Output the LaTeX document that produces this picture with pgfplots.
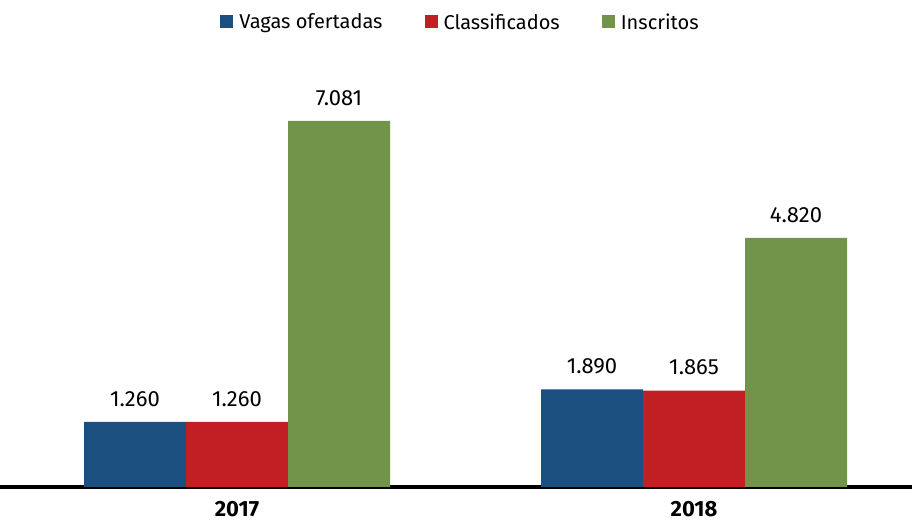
\documentclass[border=0pt]{standalone}
\usepackage{pgfplots}
\pgfplotsset{compat=1.18}
\usepackage{fontspec}
\setmainfont{Fira Sans}
\definecolor{cblue}{HTML}{1A4F80}
\definecolor{cred}{HTML}{C21F25}
\definecolor{cgreen}{HTML}{71944A}
\begin{document}
\begin{tikzpicture}
\useasboundingbox (0pt,-39pt) rectangle (912pt,487pt);
\begin{axis}[
  at={(0pt,0pt)}, anchor=south west,
  scale only axis,
  width=912pt, height=366pt,
  xmin=-0.5186, xmax=1.4770,
  ymin=0, ymax=7081,
  axis x line*=bottom,
  axis y line=none,
  x axis line style={line width=4pt, -},
  xtick={0,1}, xticklabels={2017,2018},
  major tick length=0pt,
  xticklabel style={font=\fontsize{22}{24}\selectfont\bfseries, inner sep=1pt, yshift=-13pt},
  ybar, bar width=102pt,
  /pgf/number format/.cd, 1000 sep={.}, assume math mode=true,
  /pgfplots/.cd,
  nodes near coords,
  nodes near coords style={font=\fontsize{22}{24}\selectfont, text=black, yshift=12pt},
  legend style={at={(0.505,1.27)}, anchor=center, draw=none, fill=none,
    legend columns=-1, font=\fontsize{20}{22}\selectfont,
    /tikz/every even column/.append style={column sep=40pt},
    /tikz/every odd column/.append style={column sep=4pt}},
  legend image code/.code={\fill[#1] (0pt,-6pt) rectangle (13pt,7pt);},
  clip=false,
]
\addplot[fill=cblue, draw=none, bar shift=-102pt] coordinates {(0,1260) (1,1890)};
\addplot[fill=cred, draw=none, bar shift=0pt] coordinates {(0,1260) (1,1865)};
\addplot[fill=cgreen, draw=none, bar shift=102pt] coordinates {(0,7081) (1,4820)};
\legend{Vagas ofertadas, Classificados, Inscritos}
\end{axis}
\end{tikzpicture}
\end{document}
